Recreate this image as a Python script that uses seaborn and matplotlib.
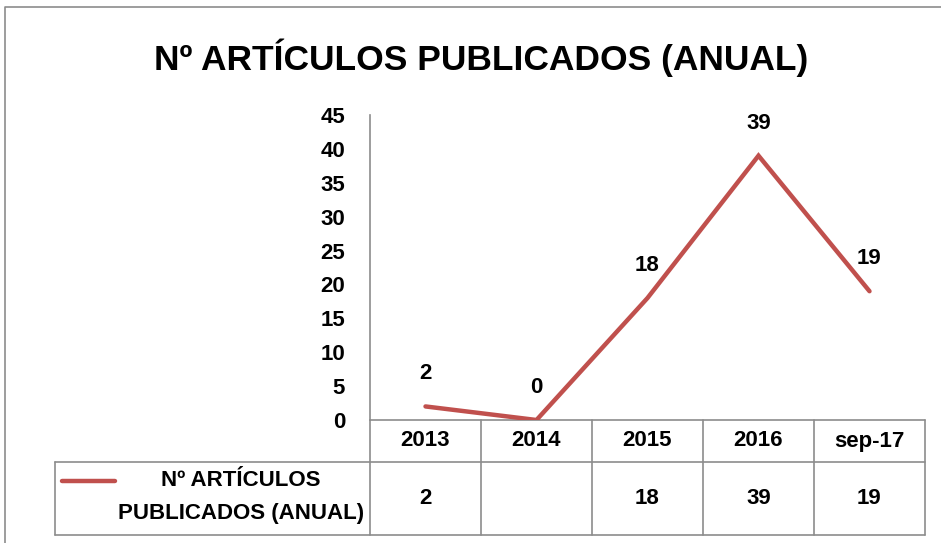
import numpy as np
import pandas as pd
import matplotlib
matplotlib.use("Agg")
import matplotlib.pyplot as plt
import seaborn as sns

# ── data ─────────────────────────────────────────────
categories = ["2013", "2014", "2015", "2016", "sep-17"]
values = [2, 0, 18, 39, 19]
table_values = ["2", "", "18", "39", "19"]   # 2014 is blank in the data table
series_name = "Nº ARTÍCULOS PUBLICADOS (ANUAL)"
legend_lines = ["Nº ARTÍCULOS", "PUBLICADOS (ANUAL)"]
y_ticks = [0, 5, 10, 15, 20, 25, 30, 35, 40, 45]

LINE_COL = "#C0504D"
GRID_COL = "#8C8C8C"
FS = 16

sns.set_theme(style="white")
plt.rcParams["font.family"] = ["Liberation Sans", "DejaVu Sans"]
plt.rcParams["font.weight"] = "bold"
plt.rcParams["text.color"] = "black"
plt.rcParams["ytick.color"] = "black"

W, H = 941, 543
fig = plt.figure(figsize=(W / 100, H / 100), dpi=100)

# pixel layout
px_left, px_right = 370, 925
px_top, px_zero = 115, 420
row1_bot, row2_bot = 462, 535
leg_left = 55
col_w = (px_right - px_left) / len(categories)

# ── overlay in pixel coords (border, table) ─────────────
bg = fig.add_axes([0, 0, 1, 1])
bg.set_xlim(0, W); bg.set_ylim(H, 0); bg.axis("off")
bg.plot([5, 5, W + 5], [H + 5, 7, 7], color=GRID_COL, lw=1.2, clip_on=False)

# ── line chart ───────────────────────────────────────
ax = fig.add_axes([px_left / W, 1 - px_zero / H,
                   (px_right - px_left) / W, (px_zero - px_top) / H])
df = pd.DataFrame({"cat": np.arange(len(categories)), "val": values})
sns.lineplot(data=df, x="cat", y="val", ax=ax, color=LINE_COL, lw=3.2,
             solid_capstyle="round", solid_joinstyle="miter")
ax.set_xlim(-0.5, len(categories) - 0.5)
ax.set_ylim(0, 45)
ax.set_yticks(y_ticks)
ax.set_yticklabels([str(t) for t in y_ticks], fontsize=FS, fontweight="bold")
ax.tick_params(axis="y", length=0, pad=18)
ax.set_xticks([])
ax.set_xlabel(""); ax.set_ylabel("")
for s in ["top", "right", "bottom"]:
    ax.spines[s].set_visible(False)
ax.spines["left"].set_color(GRID_COL)
ax.spines["left"].set_linewidth(1.2)
ax.patch.set_alpha(0)

for i, v in enumerate(values):
    ax.annotate(str(v), (i, v), xytext=(0, 23.5), textcoords="offset points",
                ha="center", va="center", fontsize=FS, fontweight="bold")

fig.text(481 / W, 1 - 58 / H, series_name, ha="center", va="center",
         fontsize=25.5, fontweight="bold")

# data table
bg.plot([px_left, px_right], [px_zero, px_zero], color=GRID_COL, lw=1.2)
bg.plot([leg_left, px_right], [row1_bot, row1_bot], color=GRID_COL, lw=1.2)
bg.plot([leg_left, px_right], [row2_bot, row2_bot], color=GRID_COL, lw=1.2)
bg.plot([leg_left, leg_left], [row1_bot, row2_bot], color=GRID_COL, lw=1.2)
for i in range(len(categories) + 1):
    x = px_left + i * col_w
    bg.plot([x, x], [px_zero, row2_bot], color=GRID_COL, lw=1.2)

for i, (c, tv) in enumerate(zip(categories, table_values)):
    xc = px_left + (i + 0.5) * col_w
    bg.text(xc, (px_zero + row1_bot) / 2, c, ha="center", va="center",
            fontsize=FS, fontweight="bold")
    bg.text(xc, (row1_bot + row2_bot) / 2, tv, ha="center", va="center",
            fontsize=FS, fontweight="bold")

bg.plot([62, 115], [481, 481], color=LINE_COL, lw=3.2, solid_capstyle="round")
bg.text(241, 481, legend_lines[0], ha="center", va="center",
        fontsize=FS, fontweight="bold")
bg.text(241, 514, legend_lines[1], ha="center", va="center",
        fontsize=FS, fontweight="bold")

fig.savefig("out.png", dpi=100)
